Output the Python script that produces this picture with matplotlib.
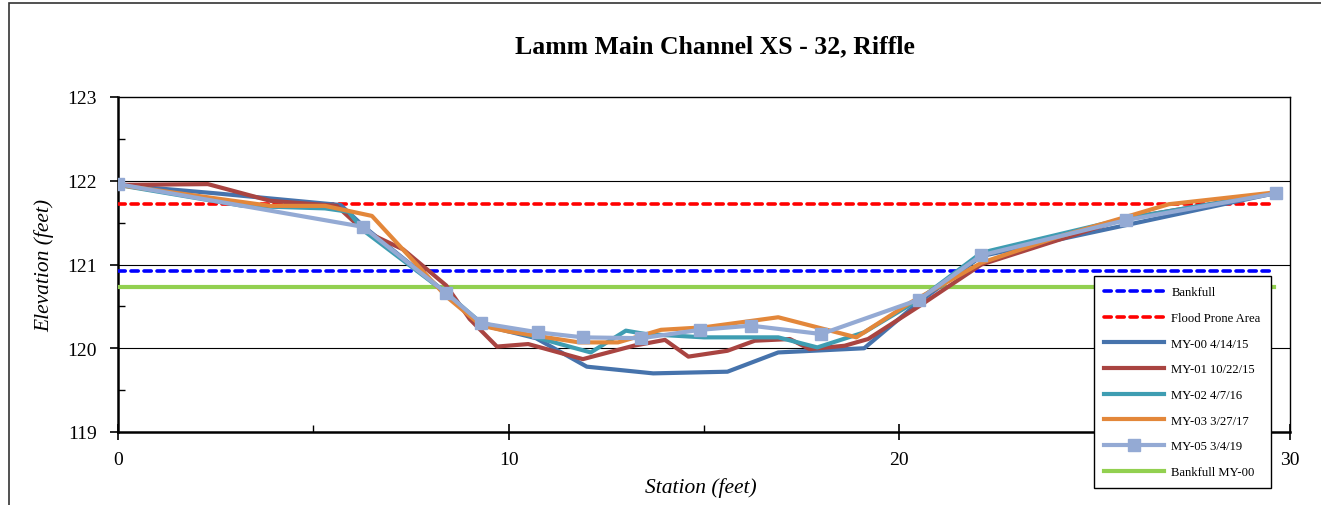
import matplotlib
matplotlib.use("Agg")
import matplotlib.pyplot as plt
from matplotlib.patches import Rectangle
from matplotlib.ticker import MultipleLocator

plt.rcParams['font.family'] = ['Liberation Serif', 'DejaVu Serif']

title = "Lamm Main Channel XS - 32, Riffle"

# Reference elevations (feet)
bankfull_elev = 120.92
flood_prone_elev = 121.72
bankfull_my00_elev = 120.73
ref_x = [0, 29.6]

# Surveyed cross-sections: station (ft) / elevation (ft)
my00_x = [0, 2.5, 5.7, 6.3, 8.4, 9.3, 10.7, 12.0, 13.7, 15.6, 16.9, 19.1, 20.5, 22.1, 25.8, 29.6]
my00_y = [121.95, 121.85, 121.71, 121.45, 120.66, 120.28, 120.12, 119.78, 119.70, 119.72, 119.95, 120.00, 120.55, 121.10, 121.47, 121.85]

my01_x = [0, 2.3, 3.9, 5.6, 6.3, 7.3, 8.4, 9.0, 9.7, 10.5, 11.9, 13.2, 14.0, 14.6, 15.6, 16.3, 17.2, 17.7, 18.6, 19.2, 20.5, 22.1, 25.8, 29.6]
my01_y = [121.95, 121.96, 121.76, 121.70, 121.40, 121.18, 120.75, 120.35, 120.02, 120.05, 119.87, 120.03, 120.10, 119.90, 119.97, 120.09, 120.11, 119.99, 120.03, 120.11, 120.50, 121.00, 121.55, 121.85]

my02_x = [0, 3.2, 5.3, 5.9, 6.3, 8.4, 9.3, 9.6, 12.1, 13.0, 13.5, 15.0, 16.9, 17.9, 19.1, 20.5, 22.1, 25.8, 29.6]
my02_y = [121.95, 121.70, 121.67, 121.63, 121.40, 120.66, 120.30, 120.27, 119.95, 120.21, 120.17, 120.13, 120.13, 120.01, 120.19, 120.58, 121.14, 121.55, 121.85]

my03_x = [0, 3.9, 5.3, 6.5, 8.4, 9.3, 10.0, 11.8, 12.8, 13.9, 15.0, 16.9, 18.9, 20.3, 22.1, 24.0, 26.9, 29.6]
my03_y = [121.95, 121.70, 121.70, 121.58, 120.62, 120.27, 120.20, 120.07, 120.07, 120.22, 120.25, 120.37, 120.13, 120.55, 121.02, 121.32, 121.72, 121.86]

my05_x = [0, 6.27, 8.4, 9.3, 10.75, 11.9, 13.4, 14.9, 16.2, 18.0, 20.5, 22.1, 25.8, 29.65]
my05_y = [121.96, 121.45, 120.66, 120.30, 120.19, 120.13, 120.12, 120.22, 120.27, 120.17, 120.58, 121.11, 121.53, 121.85]

x_ticks = [0, 10, 20, 30]
y_ticks = [119, 120, 121, 122, 123]

fig = plt.figure(figsize=(13.21, 5.06), dpi=100)

# outer chart frame
fig.patches.append(Rectangle((9 / 1321, -0.1), 1.2, (502 / 506) + 0.1,
                             transform=fig.transFigure, fill=False,
                             edgecolor='#333333', linewidth=1.2))

ax = fig.add_axes([118 / 1321, 73 / 506, 1172 / 1321, 335 / 506])
ax.set_xlim(0, 30)
ax.set_ylim(119, 123)

for yv in [120, 121, 122]:
    ax.axhline(yv, color='black', linewidth=0.8, zorder=1)

lw = 3.0
ax.plot(ref_x, [bankfull_elev] * 2, color='#0000FF', linewidth=2.6,
        linestyle=(0, (2.0, 1.6)), dash_capstyle='round', label='Bankfull', zorder=3)
ax.plot(ref_x, [flood_prone_elev] * 2, color='#FF0000', linewidth=2.6,
        linestyle=(0, (2.0, 1.6)), dash_capstyle='round', label='Flood Prone Area', zorder=3)
ax.plot(my00_x, my00_y, color='#4673AC', linewidth=lw, label='MY-00 4/14/15', zorder=4)
ax.plot(my01_x, my01_y, color='#A94441', linewidth=lw, label='MY-01 10/22/15', zorder=4)
ax.plot(my02_x, my02_y, color='#3E9DB2', linewidth=lw, label='MY-02 4/7/16', zorder=4)
ax.plot(my03_x, my03_y, color='#E3873A', linewidth=lw, label='MY-03 3/27/17', zorder=4)
ax.plot(my05_x, my05_y, color='#94AAD4', linewidth=lw, marker='s', markersize=8,
        label='MY-05 3/4/19', zorder=5)
ax.plot(ref_x, [bankfull_my00_elev] * 2, color='#92D050', linewidth=lw,
        label='Bankfull MY-00', zorder=3)

ax.set_xticks(x_ticks)
ax.set_yticks(y_ticks)
ax.xaxis.set_minor_locator(MultipleLocator(5))
ax.yaxis.set_minor_locator(MultipleLocator(0.5))
ax.tick_params(axis='x', which='major', direction='inout', length=11, width=1.2,
               labelsize=14, pad=8)
ax.tick_params(axis='y', which='major', direction='out', length=6, width=1.2,
               labelsize=14, pad=9)
ax.tick_params(which='minor', direction='in', length=5, width=1.0)

for side in ['left', 'bottom']:
    ax.spines[side].set_linewidth(1.8)
for side in ['top', 'right']:
    ax.spines[side].set_linewidth(1.0)

fig.text(701 / 1321, 1 - 488 / 506, 'Station (feet)', ha='center', va='center',
         fontsize=15.5, style='italic')
fig.text(44 / 1321, 1 - 266 / 506, 'Elevation (feet)', ha='center', va='center',
         rotation=90, fontsize=15.5, style='italic')
fig.text(715 / 1321, 1 - 47 / 506, title, ha='center', va='center',
         fontsize=18.5, fontweight='bold')

leg = ax.legend(loc='upper left', bbox_to_anchor=(1088 / 1321, 1 - 271 / 506),
                bbox_transform=fig.transFigure, fontsize=9.1, frameon=True,
                fancybox=False, edgecolor='black', framealpha=1,
                handlelength=4.7, labelspacing=1.08, borderpad=0.8,
                handletextpad=0.6, borderaxespad=0.5)
leg.get_frame().set_linewidth(1.0)
leg.set_zorder(10)

fig.savefig('out.png', dpi=100)
